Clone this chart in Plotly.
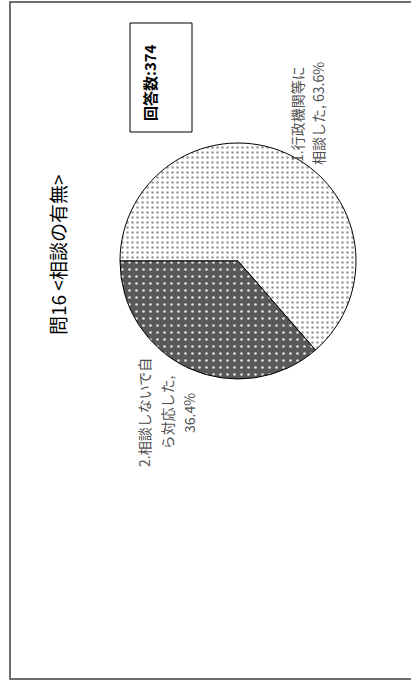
import plotly.graph_objects as go

label1_lines = ["1.行政機関等に", "相談した, 63.6%"]
label2_lines = ["2.相談しないで自", "ら対応した,", "36.4%"]
values = [63.6, 36.4]
title_text = "問16 <相談の有無>"
count_text = "<b>回答数:374</b>"

W, H = 411, 683
def px(x): return x / W
def py(y): return 1 - y / H

cx, cy, r = 238, 261, 118

fig = go.Figure(go.Pie(
    values=values,
    labels=["1", "2"],
    sort=False,
    direction="clockwise",
    rotation=270,
    textinfo="none",
    hoverinfo="skip",
    showlegend=False,
    marker=dict(
        colors=["#ffffff", "#595959"],
        line=dict(color="#000000", width=1),
        pattern=dict(
            shape=[".", "."],
            fgcolor=["#9a9a9a", "#e0e0e0"],
            bgcolor=["#ffffff", "#595959"],
            size=[5, 7],
            solidity=[0.2, 0.12],
        ),
    ),
    domain=dict(x=[px(cx - r), px(cx + r)], y=[py(cy + r), py(cy - r)]),
))

font_family = "Noto Sans CJK JP"
lab_font = dict(size=14, color="#505050", family=font_family)
annotations = [
    dict(x=px(57), y=py(255), text=title_text, textangle=-90,
         font=dict(size=19, color="#000000", family=font_family)),
    dict(x=px(150), y=py(83), text=count_text, textangle=-90,
         font=dict(size=15, color="#000000", family=font_family)),
]
for i, line in enumerate(label1_lines):
    annotations.append(dict(x=px(297 + 21 * i), y=py(114), text=line,
                            textangle=-90, font=lab_font))
for i, line in enumerate(label2_lines):
    annotations.append(dict(x=px(144 + 22.5 * i), y=py(413), text=line,
                            textangle=-90, font=lab_font))
for a in annotations:
    a.update(xref="paper", yref="paper", showarrow=False,
             xanchor="center", yanchor="middle")

shapes = [
    dict(type="rect", xref="paper", yref="paper",
         x0=px(130), x1=px(192), y0=py(132), y1=py(23),
         line=dict(color="#000000", width=1)),
    dict(type="rect", xref="paper", yref="paper",
         x0=px(10), x1=px(412), y0=py(679), y1=py(2),
         line=dict(color="#404040", width=1.5)),
]

fig.update_layout(
    width=W, height=H, autosize=False,
    margin=dict(l=0, r=0, t=0, b=0),
    paper_bgcolor="#ffffff", plot_bgcolor="#ffffff",
    annotations=annotations, shapes=shapes,
)

fig.write_html(
    "out.html",
    config={"displayModeBar": False},
    post_script="document.body.style.margin='0';document.body.style.overflow='hidden';",
)
